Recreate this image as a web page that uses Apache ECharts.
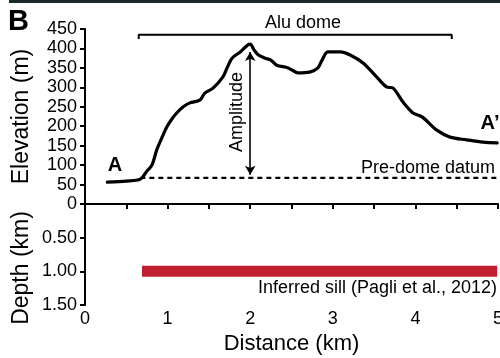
<!DOCTYPE html>
<html>
<head>
<meta charset="utf-8">
<script src="https://cdn.jsdelivr.net/npm/echarts@6/dist/echarts.min.js"></script>
<style>
  html, body { margin: 0; background: #fff; }
  #chart { width: 500px; height: 358px; }
</style>
</head>
<body>
<div id="chart"></div>
<script>
// topographic profile A - A'
const profileDistance = [0.27, 0.50, 0.67, 0.75, 0.81, 0.87, 0.93, 0.99, 1.05, 1.11, 1.19, 1.27, 1.39, 1.45, 1.55, 1.67, 1.72, 1.78, 1.88, 1.97, 2.00, 2.05, 2.10, 2.18, 2.25, 2.32, 2.46, 2.58, 2.72, 2.82, 2.87, 2.94, 3.09, 3.21, 3.37, 3.53, 3.65, 3.73, 3.85, 3.97, 4.08, 4.26, 4.42, 4.62, 4.82, 4.99];
const profileElevation = [56, 59, 64, 85, 100, 140, 170, 198, 218, 234, 250, 260, 267, 285, 298, 327, 350, 375, 391, 409, 411, 395, 383, 375, 370, 357, 350, 337, 339, 350, 370, 391, 391, 383, 362, 327, 301, 298, 262, 234, 224, 190, 172, 165, 159, 157];

const datumElevation = 67;
const datumRange = [0.67, 5.0];
const domeRange = [0.65, 4.44];
const domeBracket = [424, 435];
const amplitudeAt = 2.0;
const amplitudeRange = [75, 391];
const sillRange = [0.69, 4.99];
const sillDepth = 1.0;

const elevationAxis = {min: 0, max: 450, step: 50};
const depthAxis = {min: 0, max: 1.5, step: 0.5};
const distanceAxis = {min: 0, max: 5, step: 0.5};

const FONT = '"Liberation Sans", Arial, sans-serif';
const chart = echarts.init(document.getElementById('chart'));

const axisLine = {lineStyle: {color: '#000', width: 2}};
const axisTick = {inside: false, length: 5, lineStyle: {color: '#000', width: 2}};
const tickLabel = {color: '#000', fontSize: 18, fontFamily: FONT};

chart.setOption({
  animation: false,
  grid: [
    {left: 85, right: 2, top: 29, height: 175, outerBoundsMode: 'none'},
    {left: 85, right: 2, top: 204, height: 101, outerBoundsMode: 'none'}
  ],
  xAxis: [
    {
      gridIndex: 0, type: 'value', min: distanceAxis.min, max: distanceAxis.max,
      show: false
    },
    {
      gridIndex: 1, type: 'value', min: distanceAxis.min, max: distanceAxis.max,
      interval: distanceAxis.step,
      axisLine, axisTick,
      axisLabel: {...tickLabel, margin: 5, formatter: (v) => (v % 1 === 0 ? String(v) : '')},
      splitLine: {show: false},
      name: 'Distance (km)', nameLocation: 'middle', nameGap: 28,
      nameTextStyle: {color: '#000', fontSize: 22, fontFamily: FONT}
    }
  ],
  yAxis: [
    {
      gridIndex: 0, type: 'value', min: elevationAxis.min, max: elevationAxis.max,
      interval: elevationAxis.step,
      axisLine, axisTick,
      axisLabel: {...tickLabel, margin: 8},
      splitLine: {show: false},
      name: 'Elevation (m)', nameLocation: 'middle', nameGap: 52,
      nameTextStyle: {color: '#000', fontSize: 23, fontFamily: FONT}
    },
    {
      gridIndex: 1, type: 'value', min: depthAxis.min, max: depthAxis.max,
      interval: depthAxis.step, inverse: true,
      axisLine, axisTick,
      axisLabel: {...tickLabel, margin: 8, formatter: (v) => (v === 0 ? '' : v.toFixed(2))},
      splitLine: {show: false}
    }
  ],
  graphic: [
    {type: 'rect', left: 9, top: 0, shape: {width: 491, height: 3}, style: {fill: '#1c2a2c'}},
    {type: 'text', left: 8, top: 7, style: {text: 'B', font: 'bold 29px ' + FONT, fill: '#000'}},
    {type: 'text', x: 22, y: 268, rotation: Math.PI / 2,
      style: {text: 'Depth (km)', font: '23px ' + FONT, fill: '#000', align: 'center', verticalAlign: 'middle'}},
    {type: 'text', x: 303, y: 23,
      style: {text: 'Alu dome', font: '18px ' + FONT, fill: '#000', align: 'center', verticalAlign: 'middle'}},
    {type: 'text', x: 237, y: 112, rotation: Math.PI / 2,
      style: {text: 'Amplitude', font: '18px ' + FONT, fill: '#000', align: 'center', verticalAlign: 'middle'}},
    {type: 'text', x: 495, y: 168,
      style: {text: 'Pre-dome datum', font: '18px ' + FONT, fill: '#000', align: 'right', verticalAlign: 'middle'}},
    {type: 'text', x: 115, y: 165,
      style: {text: 'A', font: 'bold 20px ' + FONT, fill: '#000', align: 'center', verticalAlign: 'middle'}},
    {type: 'text', x: 490, y: 123,
      style: {text: 'A\u2019', font: 'bold 20px ' + FONT, fill: '#000', align: 'center', verticalAlign: 'middle'}},
    {type: 'text', x: 497, y: 288,
      style: {text: 'Inferred sill (Pagli et al., 2012)', font: '18px ' + FONT, fill: '#000', align: 'right', verticalAlign: 'middle'}}
  ],
  series: [
    {
      name: 'Profile', type: 'line', xAxisIndex: 0, yAxisIndex: 0,
      data: profileDistance.map((d, i) => [d, profileElevation[i]]),
      showSymbol: false, smooth: 0.3,
      lineStyle: {color: '#000', width: 3.2, join: 'round', cap: 'round'}
    },
    {
      name: 'Datum', type: 'line', xAxisIndex: 0, yAxisIndex: 0,
      data: datumRange.map((d) => [d, datumElevation]),
      showSymbol: false,
      lineStyle: {color: '#000', width: 2.2, type: [5, 4]},
      markLine: {
        silent: true, symbol: ['arrow', 'arrow'], symbolSize: [8, 9],
        label: {show: false},
        lineStyle: {color: '#000', width: 1.6, type: 'solid'},
        data: [[{coord: [amplitudeAt, amplitudeRange[1]]}, {coord: [amplitudeAt, amplitudeRange[0]]}]]
      }
    },
    {
      name: 'Dome', type: 'line', xAxisIndex: 0, yAxisIndex: 0,
      data: [
        [domeRange[0], domeBracket[0]], [domeRange[0], domeBracket[1]],
        [domeRange[1], domeBracket[1]], [domeRange[1], domeBracket[0]]
      ],
      showSymbol: false,
      lineStyle: {color: '#000', width: 2}
    },
    {
      name: 'Sill', type: 'line', xAxisIndex: 1, yAxisIndex: 1,
      data: sillRange.map((d) => [d, sillDepth]),
      showSymbol: false,
      lineStyle: {color: '#c01f2f', width: 11, cap: 'butt'}
    }
  ]
});
</script>
</body>
</html>
